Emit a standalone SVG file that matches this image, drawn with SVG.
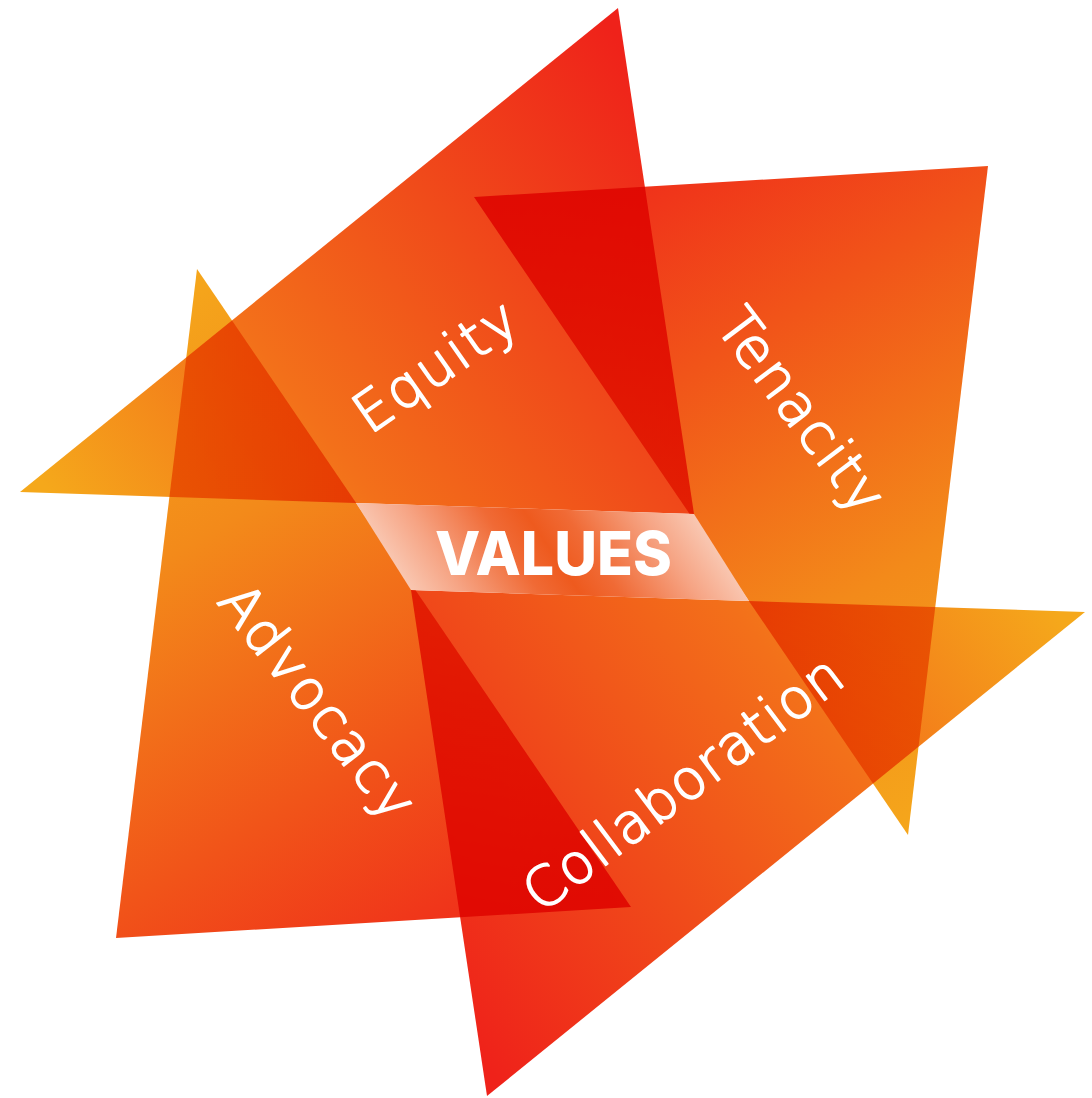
<svg xmlns="http://www.w3.org/2000/svg" width="1092" height="1098" viewBox="0 0 1092 1098">
  <defs>
    <linearGradient id="gA" gradientUnits="userSpaceOnUse" x1="40" y1="480" x2="620" y2="40">
      <stop offset="0" stop-color="#f5a81b"/>
      <stop offset="0.35" stop-color="#f3701a"/>
      <stop offset="0.65" stop-color="#f04c1a"/>
      <stop offset="1" stop-color="#ef221a"/>
    </linearGradient>
    <linearGradient id="gC" gradientUnits="userSpaceOnUse" x1="1065" y1="624" x2="485" y2="1064">
      <stop offset="0" stop-color="#f5a81b"/>
      <stop offset="0.35" stop-color="#f3701a"/>
      <stop offset="0.65" stop-color="#f04c1a"/>
      <stop offset="1" stop-color="#ef221a"/>
    </linearGradient>
    <linearGradient id="gD" gradientUnits="userSpaceOnUse" x1="190" y1="290" x2="560" y2="920">
      <stop offset="0" stop-color="#f5a51b"/>
      <stop offset="0.3" stop-color="#f38a1a"/>
      <stop offset="0.68" stop-color="#f15419"/>
      <stop offset="0.9" stop-color="#f0361a"/>
      <stop offset="1" stop-color="#ef2a1a"/>
    </linearGradient>
    <linearGradient id="gB" gradientUnits="userSpaceOnUse" x1="915" y1="814" x2="545" y2="184">
      <stop offset="0" stop-color="#f5a51b"/>
      <stop offset="0.3" stop-color="#f38a1a"/>
      <stop offset="0.68" stop-color="#f15419"/>
      <stop offset="0.9" stop-color="#f0361a"/>
      <stop offset="1" stop-color="#ef2a1a"/>
    </linearGradient>
    <linearGradient id="gGap" gradientUnits="userSpaceOnUse" x1="383" y1="547" x2="609" y2="393">
      <stop offset="0" stop-color="#f9c6b0"/>
      <stop offset="0.15" stop-color="#f6a484"/>
      <stop offset="0.38" stop-color="#f06a35"/>
      <stop offset="0.5" stop-color="#ee5a1e"/>
      <stop offset="0.62" stop-color="#f06a35"/>
      <stop offset="0.85" stop-color="#f6a484"/>
      <stop offset="1" stop-color="#f9c6b0"/>
    </linearGradient>
  </defs>
  <style>
    .tri { mix-blend-mode: multiply; }
    .lbl { fill: #ffffff; stroke: #ffffff; stroke-width: 1.8px; stroke-linejoin: round; font-family: "DejaVu Sans", "Open Sans", sans-serif; font-weight: 200; font-size: 55px; }
    .title { fill: #ffffff; font-family: "Inter", "Roboto", "Liberation Sans", sans-serif; font-weight: 800; font-size: 60px; }
  </style>
  <rect width="1092" height="1098" fill="#ffffff"/>

  <g id="equity">
    <polygon class="tri" points="618,8 20,492 694,514" fill="url(#gA)"/>
    <text class="lbl" transform="translate(370,435) rotate(-35)" textLength="186" lengthAdjust="spacing">Equity</text>
  </g>

  <g id="tenacity">
    <polygon class="tri" points="474,197 988,166 908,835" fill="url(#gB)"/>
    <text class="lbl" transform="translate(714,326) rotate(53)" textLength="240" lengthAdjust="spacing">Tenacity</text>
  </g>

  <g id="advocacy">
    <polygon class="tri" points="197,269 116,938 631,907" fill="url(#gD)"/>
    <text class="lbl" transform="translate(216,602) rotate(52)" textLength="282" lengthAdjust="spacing">Advocacy</text>
  </g>

  <g id="collaboration">
    <polygon class="tri" points="487,1096 1085,612 411,590" fill="url(#gC)"/>
    <text class="lbl" transform="translate(541,914) rotate(-37)" textLength="384" lengthAdjust="spacing">Collaboration</text>
  </g>

  <g id="values">
    <polygon points="356,503 694,514 749,601 411,590" fill="url(#gGap)"/>
    <text class="title" x="435" y="575" textLength="237" lengthAdjust="spacingAndGlyphs">VALUES</text>
  </g>
</svg>
